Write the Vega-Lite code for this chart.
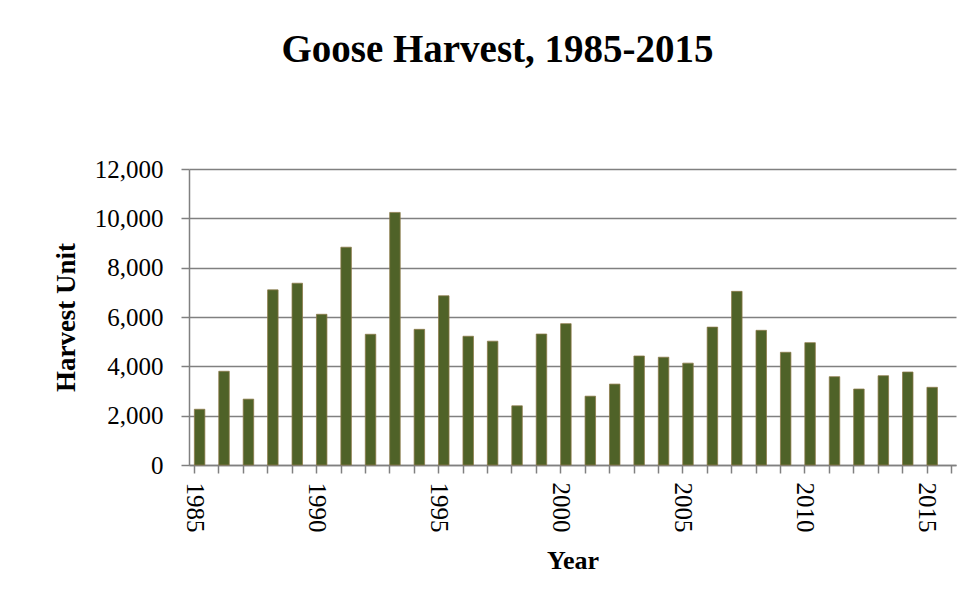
{
  "$schema": "https://vega.github.io/schema/vega-lite/v6.json",
  "autosize": "none",
  "width": 767,
  "height": 296,
  "padding": {"left": 189, "top": 169, "right": 20, "bottom": 148},
  "background": "white",
  "title": {
    "text": "Goose Harvest, 1985-2015",
    "font": "Liberation Serif",
    "fontSize": 39,
    "fontWeight": "bold",
    "color": "black",
    "anchor": "middle",
    "frame": "group",
    "dx": -75,
    "offset": 87
  },
  "data": {
    "values": [
      {"Year": 1985, "Harvest": 2260},
      {"Year": 1986, "Harvest": 3800},
      {"Year": 1987, "Harvest": 2670},
      {"Year": 1988, "Harvest": 7100},
      {"Year": 1989, "Harvest": 7370},
      {"Year": 1990, "Harvest": 6110},
      {"Year": 1991, "Harvest": 8830},
      {"Year": 1992, "Harvest": 5300},
      {"Year": 1993, "Harvest": 10240},
      {"Year": 1994, "Harvest": 5500},
      {"Year": 1995, "Harvest": 6860},
      {"Year": 1996, "Harvest": 5220},
      {"Year": 1997, "Harvest": 5020},
      {"Year": 1998, "Harvest": 2400},
      {"Year": 1999, "Harvest": 5310},
      {"Year": 2000, "Harvest": 5730},
      {"Year": 2001, "Harvest": 2790},
      {"Year": 2002, "Harvest": 3280},
      {"Year": 2003, "Harvest": 4420},
      {"Year": 2004, "Harvest": 4370},
      {"Year": 2005, "Harvest": 4130},
      {"Year": 2006, "Harvest": 5590},
      {"Year": 2007, "Harvest": 7040},
      {"Year": 2008, "Harvest": 5460},
      {"Year": 2009, "Harvest": 4570},
      {"Year": 2010, "Harvest": 4960},
      {"Year": 2011, "Harvest": 3580},
      {"Year": 2012, "Harvest": 3080},
      {"Year": 2013, "Harvest": 3620},
      {"Year": 2014, "Harvest": 3770},
      {"Year": 2015, "Harvest": 3150}
    ]
  },
  "mark": {
    "type": "bar",
    "size": 10.5,
    "xOffset": 5.6,
    "fill": "#4F6228",
    "stroke": "#8C7A48",
    "strokeWidth": 0.75
  },
  "encoding": {
    "x": {
      "field": "Year",
      "type": "quantitative",
      "scale": {"domain": [1985, 2016], "nice": false, "zero": false},
      "axis": {
        "title": "Year",
        "values": [1985,1986,1987,1988,1989,1990,1991,1992,1993,1994,1995,1996,1997,1998,1999,2000,2001,2002,2003,2004,2005,2006,2007,2008,2009,2010,2011,2012,2013,2014,2015,2016],
        "format": "d",
        "labelExpr": "datum.value % 5 === 0 && datum.value < 2016 ? datum.label : ''",
        "labelAngle": 90,
        "labelAlign": "left",
        "labelBaseline": "middle",
        "labelFont": "Liberation Serif",
        "labelFontSize": 25,
        "labelColor": "black",
        "labelPadding": 9,
        "labelOverlap": false,
        "labelFlush": false,
        "tickSize": 8,
        "tickColor": "#808080",
        "tickWidth": 1.5,
        "domainColor": "#808080",
        "domainWidth": 1.5,
        "grid": false,
        "titleFont": "Liberation Serif",
        "titleFontSize": 26,
        "titleFontWeight": "bold",
        "titleColor": "black",
        "titlePadding": 15
      }
    },
    "y": {
      "field": "Harvest",
      "type": "quantitative",
      "scale": {"domain": [0, 12000], "nice": false},
      "axis": {
        "title": "Harvest Unit",
        "values": [0, 2000, 4000, 6000, 8000, 10000, 12000],
        "format": ",d",
        "labelFont": "Liberation Serif",
        "labelFontSize": 25,
        "labelColor": "black",
        "labelPadding": 18,
        "tickSize": 8,
        "tickColor": "#808080",
        "tickWidth": 1.5,
        "domainColor": "#808080",
        "domainWidth": 1.5,
        "grid": true,
        "gridColor": "#808080",
        "gridWidth": 1.5,
        "titleFont": "Liberation Serif",
        "titleFontSize": 27,
        "titleFontWeight": "bold",
        "titleColor": "black",
        "titlePadding": 14
      }
    }
  },
  "config": {
    "view": {"stroke": null}
  }
}
